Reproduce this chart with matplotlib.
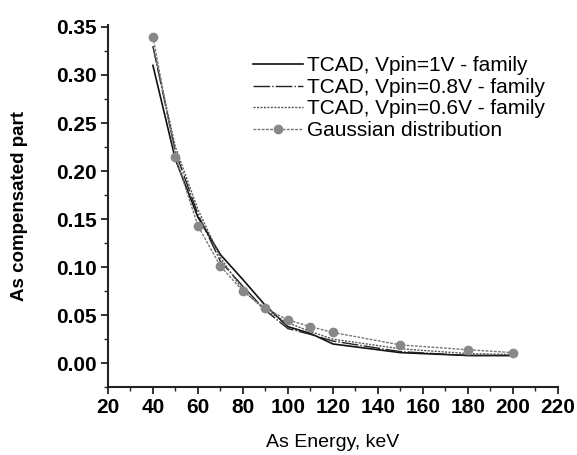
import matplotlib
matplotlib.use("Agg")
import matplotlib.pyplot as plt
from matplotlib.ticker import MultipleLocator

energy = [40, 50, 60, 70, 80, 90, 100, 110, 120, 150, 180, 200]
tcad_1v = [0.310, 0.212, 0.152, 0.113, 0.087, 0.060, 0.038, 0.031, 0.020, 0.011, 0.008, 0.008]
tcad_08v = [0.330, 0.220, 0.155, 0.106, 0.080, 0.055, 0.036, 0.030, 0.023, 0.012, 0.008, 0.008]
tcad_06v = [0.330, 0.225, 0.160, 0.110, 0.076, 0.055, 0.042, 0.033, 0.025, 0.015, 0.010, 0.009]
gaussian = [0.340, 0.215, 0.143, 0.101, 0.075, 0.057, 0.045, 0.038, 0.032, 0.019, 0.014, 0.011]

plt.rcParams['font.family'] = ['Liberation Sans', 'DejaVu Sans']

fig = plt.figure(figsize=(5.77, 4.55), dpi=100)
ax = fig.add_axes([0.187, 0.149, 0.780, 0.796])

ax.plot(energy, tcad_1v, color='#111111', lw=1.2, ls='-', label='TCAD, Vpin=1V - family')
ax.plot(energy, tcad_08v, color='#222222', lw=1.0, ls=(0, (12, 1.5, 1, 1.5)), label='TCAD, Vpin=0.8V - family')
ax.plot(energy, tcad_06v, color='#555555', lw=1.0, ls=(0, (1.5, 1)), label='TCAD, Vpin=0.6V - family')
ax.plot(energy, gaussian, color='#777777', lw=1.0, ls=(0, (2, 1)), marker='o', ms=6,
        mfc='#888888', mec='#888888', label='Gaussian distribution')

ax.set_xlim(20, 220)
ax.set_ylim(-0.025, 0.352)
ax.xaxis.set_major_locator(MultipleLocator(20))
ax.xaxis.set_minor_locator(MultipleLocator(10))
ax.yaxis.set_minor_locator(MultipleLocator(0.025))
ax.set_yticks([0, 0.05, 0.10, 0.15, 0.20, 0.25, 0.30, 0.35])
ax.set_yticklabels(['0.00', '0.05', '0.10', '0.15', '0.20', '0.25', '0.30', '0.35'])

for s in ['top', 'right']:
    ax.spines[s].set_visible(False)
for s in ['left', 'bottom']:
    ax.spines[s].set_linewidth(1.5)
    ax.spines[s].set_color('#222222')

ax.tick_params(which='major', direction='out', length=5, width=1.3, labelsize=15, color='#222222', pad=3)
ax.tick_params(which='minor', direction='out', length=3, width=1.0, color='#222222')
for lbl in ax.get_xticklabels() + ax.get_yticklabels():
    lbl.set_fontweight('bold')

ax.set_xlabel('As Energy, keV', fontsize=14, labelpad=12)
ax.set_ylabel('As compensated part', fontsize=13.5, fontweight='bold', labelpad=20)

leg = ax.legend(loc='upper right', bbox_to_anchor=(1.0, 0.948), frameon=False, fontsize=15,
                handlelength=2.4, handletextpad=0.2, labelspacing=0.12, borderaxespad=0.2)

fig.savefig('out.png', dpi=100)
